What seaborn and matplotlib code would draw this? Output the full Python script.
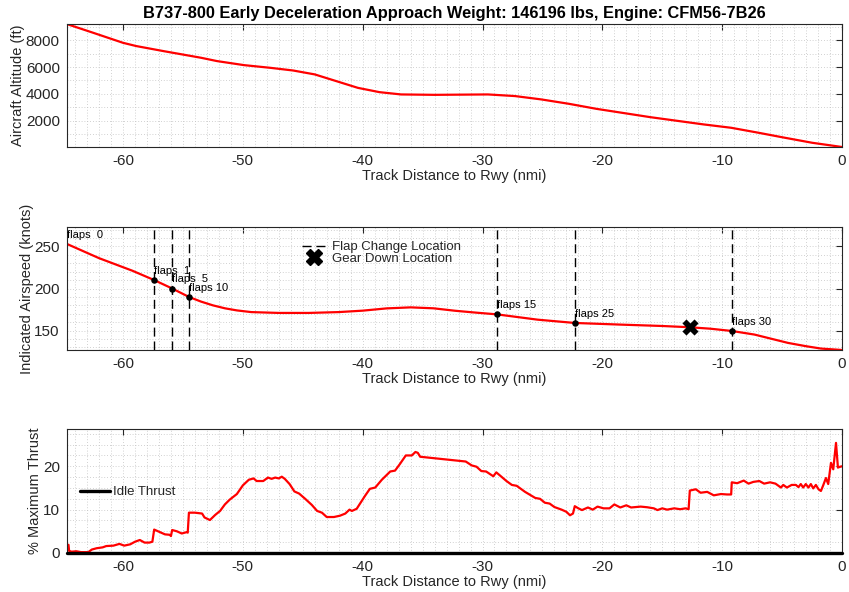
import matplotlib
matplotlib.use("Agg")
import matplotlib.pyplot as plt
from matplotlib.lines import Line2D
from matplotlib.ticker import MultipleLocator
import pandas as pd
import seaborn as sns

# ---- Altitude profile (ft) vs. track distance to runway (nmi)
alt_dist = [-64.7, -62.5, -60.0, -58.9, -56.6, -53.5, -52.15, -49.9, -47.7, -45.8,
            -44.0, -42.2, -40.4, -38.6, -36.8, -34.0, -29.55, -27.3, -25.1, -22.8,
            -20.5, -16.0, -11.55, -9.25, -6.97, -4.78, -2.49, 0.0]
alt_ft = [9200, 8550, 7800, 7560, 7180, 6690, 6440, 6140, 5940, 5740,
          5450, 4950, 4450, 4130, 3960, 3930, 3960, 3840, 3590, 3265,
          2890, 2270, 1730, 1480, 1110, 740, 365, 50]

# ---- Indicated airspeed (knots)
spd_dist = [-64.7, -62.0, -59.2, -57.4, -55.9, -54.5, -53.5, -52.5, -51.5, -50.5,
            -49.3, -47.0, -44.5, -42.0, -40.0, -38.0, -36.0, -34.1, -32.3, -30.5,
            -28.8, -25.4, -22.3, -18.4, -15.0, -12.7, -11.0, -9.2, -7.3, -5.8,
            -4.5, -3.0, -1.75, 0.0]
spd_kts = [253, 236, 221, 210, 200, 190, 184.5, 180, 176.5, 174,
           172, 171, 171, 172, 173.7, 176.4, 177.6, 176.5, 173.6, 171.3,
           169.3, 163, 159.1, 157.1, 155.5, 154, 152.3, 149.6, 145.3, 140,
           135.4, 131.5, 128.7, 127]

# ---- Flap schedule
flap_names = ["flaps  0", "flaps  1", "flaps  5", "flaps 10", "flaps 15", "flaps 25", "flaps 30"]
flap_dist = [-64.7, -57.4, -55.9, -54.5, -28.8, -22.3, -9.2]
flap_spd = [253, 210, 200, 190, 169.3, 159.1, 149.6]

# ---- Landing gear extension
gear_dist = [-12.7]
gear_spd = [154]

# ---- Engine thrust (% of maximum)
thr_dist = [-64.7, -64.55, -64.5, -64.3, -63.9, -63.5, -62.9, -62.6, -62.2, -61.7,
            -61.4, -60.8, -60.3, -59.9, -59.4, -59.0, -58.6, -58.2, -57.8, -57.55,
            -57.4, -56.9, -56.5, -56.1, -56.0, -55.9, -55.5, -55.1, -54.7, -54.6,
            -54.5, -54.0, -53.4, -53.2, -52.75, -52.3, -51.9, -51.5, -51.1, -50.5,
            -50.0, -49.5, -49.1, -48.85, -48.3, -47.9, -47.6, -47.3, -47.0, -46.75,
            -46.5, -46.1, -45.7, -45.3, -44.8, -44.25, -43.8, -43.4, -43.0, -42.4,
            -41.9, -41.45, -41.1, -40.9, -40.5, -40.2, -39.8, -39.4, -38.95, -38.4,
            -37.7, -37.3, -36.9, -36.4, -35.9, -35.6, -35.4, -35.2, -31.4, -30.9,
            -30.5, -30.1, -29.7, -29.1, -28.85, -28.55, -28.0, -27.55, -27.15, -26.45,
            -25.6, -25.2, -24.8, -24.4, -24.0, -23.4, -23.0, -22.7, -22.45, -22.3,
            -22.0, -21.7, -21.2, -20.8, -20.4, -19.9, -19.4, -19.0, -18.5, -18.0,
            -17.6, -17.4, -16.8, -16.25, -15.7, -15.4, -15.0, -14.6, -14.0, -13.5,
            -13.05, -12.8, -12.7, -12.2, -11.8, -11.25, -10.7, -10.1, -9.6, -9.25,
            -9.2, -8.75, -8.2, -7.8, -7.4, -6.9, -6.5, -6.0, -5.55, -5.1,
            -4.9, -4.6, -4.2, -3.85, -3.63, -3.44, -3.24, -3.02, -2.8, -2.6,
            -2.4, -2.18, -1.96, -1.76, -1.57, -1.34, -1.15, -0.92, -0.73, -0.5,
            -0.34, -0.15, 0.0]
thr_pct = [1.8, 1.9, 0.5, 0.3, 0.4, 0.2, 0.2, 0.8, 1.1, 1.3,
           1.6, 1.7, 2.1, 1.7, 2.0, 2.6, 3.0, 2.4, 2.4, 2.6,
           5.4, 4.8, 4.3, 4.2, 3.9, 5.3, 5.0, 4.5, 4.8, 4.7,
           9.3, 9.3, 9.1, 8.2, 7.6, 8.8, 9.7, 11.2, 12.3, 13.6,
           15.6, 16.9, 17.2, 16.6, 16.6, 17.4, 17.1, 17.4, 17.2, 17.6,
           17.1, 15.9, 14.2, 13.7, 12.5, 11.1, 9.7, 9.3, 8.3, 8.3,
           8.6, 9.1, 10.0, 9.7, 10.2, 11.5, 13.2, 14.8, 15.1, 16.9,
           18.8, 19.0, 20.5, 22.5, 22.5, 23.3, 23.1, 22.2, 21.1, 20.2,
           19.9, 18.9, 18.8, 17.7, 18.6, 17.9, 16.6, 15.7, 15.5, 14.1,
           12.7, 12.5, 11.6, 11.4, 10.6, 10.0, 9.5, 8.7, 9.1, 10.8,
           10.3, 9.9, 10.5, 10.0, 10.7, 10.3, 10.3, 11.2, 10.5, 11.0,
           10.5, 10.55, 10.7, 10.55, 10.3, 9.9, 10.3, 10.0, 10.3, 10.1,
           10.3, 10.1, 14.4, 14.7, 13.9, 14.1, 13.3, 13.6, 13.5, 13.5,
           16.3, 16.1, 16.7, 16.0, 16.4, 16.6, 16.0, 16.3, 16.0, 15.1,
           15.7, 15.1, 15.7, 15.7, 15.2, 15.9, 15.1, 15.9, 15.1, 15.9,
           14.9, 15.7, 14.7, 14.3, 15.6, 17.3, 15.9, 20.8, 19.3, 25.4,
           19.7, 19.9, 20.0]
idle_thrust = 0.0

alt_df = pd.DataFrame({"dist": alt_dist, "alt": alt_ft})
spd_df = pd.DataFrame({"dist": spd_dist, "spd": spd_kts})
thr_df = pd.DataFrame({"dist": thr_dist, "thr": thr_pct})

sns.set_theme(style="white")
plt.rcParams["font.family"] = ["Liberation Sans", "DejaVu Sans"]
plt.rcParams["axes.unicode_minus"] = False

INK = "#262626"
XMIN = min(alt_dist)

fig = plt.figure(figsize=(8.49, 5.92), dpi=100)
left = 66.7 / 849
width = (842.0 - 66.7) / 849
ax_alt = fig.add_axes([left, 1 - 147 / 592, width, 123 / 592])
ax_spd = fig.add_axes([left, 1 - 350 / 592, width, 123 / 592])
ax_thr = fig.add_axes([left, 1 - 553 / 592, width, 124 / 592])


def style_axes(ax, ymajor, yminor, ylabel):
    ax.set_xlim(XMIN, 0)
    ax.xaxis.set_major_locator(MultipleLocator(10))
    ax.xaxis.set_minor_locator(MultipleLocator(1))
    ax.yaxis.set_major_locator(MultipleLocator(ymajor))
    ax.yaxis.set_minor_locator(MultipleLocator(yminor))
    ax.set_axisbelow(True)
    ax.grid(True, which="both", linestyle=(0, (1, 2.4)), color="#c2c2c2", linewidth=0.6)
    ax.tick_params(which="major", direction="in", length=4, width=0.8,
                   top=True, right=True, labelsize=11, colors=INK, pad=5)
    ax.tick_params(which="minor", length=0)
    for s in ax.spines.values():
        s.set_color(INK)
        s.set_linewidth(0.8)
    ax.set_xlabel("Track Distance to Rwy (nmi)", fontsize=10.5, color=INK, labelpad=1)
    ax.set_ylabel(ylabel, fontsize=10.5, color=INK, labelpad=0.5)


# ---- Altitude panel
sns.lineplot(data=alt_df, x="dist", y="alt", ax=ax_alt, color="red", lw=1.6, estimator=None)
ax_alt.set_ylim(min(alt_ft), max(alt_ft))
style_axes(ax_alt, 2000, 1000, "Aircraft Altitude (ft)")
ax_alt.set_title("B737-800 Early Deceleration Approach Weight: 146196 lbs, Engine: CFM56-7B26",
                 fontsize=11.8, fontweight="bold", color="black", pad=4)

# ---- Airspeed panel
sns.lineplot(data=spd_df, x="dist", y="spd", ax=ax_spd, color="red", lw=1.6, estimator=None)
for d in flap_dist[1:]:
    ax_spd.axvline(d, color="black", lw=1.0, linestyle=(0, (6.5, 3.5)), zorder=3)
sns.scatterplot(x=flap_dist[1:], y=flap_spd[1:], ax=ax_spd, color="black", s=22,
                edgecolor="black", linewidth=0, zorder=4)
sns.scatterplot(x=gear_dist, y=gear_spd, ax=ax_spd, color="black", marker="X", s=135,
                edgecolor="black", linewidth=0, zorder=5)
for name, d, v in zip(flap_names, flap_dist, flap_spd):
    ax_spd.text(d, v + 11, name, fontsize=8, ha="left", va="center", color="black", zorder=6)
ax_spd.set_ylim(min(spd_kts), max(spd_kts) + 20)
style_axes(ax_spd, 50, 10, "Indicated Airspeed (knots)")
spd_handles = [
    Line2D([], [], color="black", lw=1.0, linestyle=(0, (6.5, 3.5))),
    Line2D([], [], color="black", marker="X", markersize=11, linestyle="none"),
]
ax_spd.legend(spd_handles, ["Flap Change Location", "Gear Down Location"],
              loc="upper left", bbox_to_anchor=(0.303, 0.885), frameon=False,
              fontsize=9.5, handlelength=1.9, handletextpad=0.4,
              labelspacing=-0.05, borderpad=0, borderaxespad=0)

# ---- Thrust panel
sns.lineplot(data=thr_df, x="dist", y="thr", ax=ax_thr, color="red", lw=1.6, estimator=None)
ax_thr.axhline(idle_thrust, color="black", lw=2.4, clip_on=False, zorder=5)
ax_thr.set_ylim(0, 28.6)
style_axes(ax_thr, 10, 2.5, "% Maximum Thrust")
ax_thr.legend([Line2D([], [], color="black", lw=2.4)], ["Idle Thrust"],
              loc="center left", bbox_to_anchor=(0.017, 0.49), frameon=False,
              fontsize=9.5, handlelength=2.3, handletextpad=0.2,
              borderpad=0, borderaxespad=0)

fig.savefig("out.png", dpi=100)
